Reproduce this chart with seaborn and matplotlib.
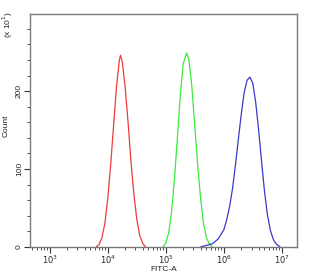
import numpy as np
import pandas as pd
import matplotlib
matplotlib.use("Agg")
import matplotlib.pyplot as plt
import seaborn as sns
from matplotlib.ticker import LogLocator, FixedLocator, MultipleLocator, NullFormatter

# log10(FITC-A) positions and counts (x10^1) per series
red_log = [3.80, 3.85, 3.90, 3.95, 4.00, 4.05, 4.10, 4.15, 4.20, 4.22, 4.25, 4.30, 4.35, 4.40, 4.45, 4.50, 4.55, 4.60, 4.65]
red_cnt = [0, 3, 12, 30, 62, 105, 155, 205, 240, 246, 238, 205, 160, 110, 68, 36, 15, 5, 0]

green_log = [4.95, 5.00, 5.05, 5.10, 5.15, 5.20, 5.25, 5.30, 5.36, 5.40, 5.45, 5.50, 5.55, 5.60, 5.65, 5.70, 5.75, 5.80]
green_cnt = [0, 5, 18, 45, 88, 140, 195, 235, 249, 240, 205, 155, 105, 62, 30, 12, 4, 0]

blue_log = [5.60, 5.70, 5.80, 5.90, 6.00, 6.05, 6.10, 6.15, 6.20, 6.25, 6.30, 6.35, 6.40, 6.45, 6.50, 6.55, 6.60, 6.65, 6.70, 6.75, 6.80, 6.85, 6.90, 6.97]
blue_cnt = [0, 2, 4, 10, 22, 35, 52, 75, 105, 138, 170, 198, 214, 218, 210, 185, 150, 110, 72, 42, 22, 10, 4, 0]

x_ticks = [1e3, 1e4, 1e5, 1e6, 1e7]
x_labels = ["$10^3$", "$10^4$", "$10^5$", "$10^6$", "$10^7$"]
y_ticks = [0, 100, 200]

sns.set_style("white")
plt.rcParams['font.family'] = ['Liberation Sans', 'DejaVu Sans']

df = pd.concat([
    pd.DataFrame({"x": 10 ** np.array(red_log), "y": red_cnt, "s": "red"}),
    pd.DataFrame({"x": 10 ** np.array(green_log), "y": green_cnt, "s": "green"}),
    pd.DataFrame({"x": 10 ** np.array(blue_log), "y": blue_cnt, "s": "blue"}),
])

fig = plt.figure(figsize=(3.09, 2.75), dpi=100)
ax = fig.add_axes([0.097, 0.102, 0.864, 0.847])
palette = {"red": "#ee3b3b", "green": "#3ee83e", "blue": "#3a3ac8"}
sns.lineplot(data=df, x="x", y="y", hue="s", palette=palette, ax=ax,
             legend=False, linewidth=0.9, sort=False, estimator=None)
ax.set_xscale("log")
ax.set_xlim(10 ** 2.66, 10 ** 7.26)
ax.set_ylim(0, 299)

ax.xaxis.set_major_locator(FixedLocator(x_ticks))
ax.set_xticklabels(x_labels)
ax.xaxis.set_minor_locator(LogLocator(base=10, subs=np.arange(2, 10)))
ax.xaxis.set_minor_formatter(NullFormatter())
ax.yaxis.set_major_locator(FixedLocator(y_ticks))
ax.yaxis.set_minor_locator(MultipleLocator(20))

ax.tick_params(axis="both", which="major", direction="out", length=4, width=0.8,
               color="#333333", labelsize=6, pad=1, left=True, bottom=True)
ax.tick_params(axis="both", which="minor", direction="out", length=2.5, width=0.6,
               color="#333333", left=True, bottom=True)
for lab in ax.get_yticklabels():
    lab.set_rotation(90)
    lab.set_va("center")

for sp in ax.spines.values():
    sp.set_color("#7a7a7a")
    sp.set_linewidth(1.0)

ax.set_xlabel("FITC-A", fontsize=6, labelpad=0)
ax.set_ylabel("Count", fontsize=6)
ax.yaxis.set_label_coords(-0.075, 0.52)
fig.text(0.026, 0.91, "(x 10$^1$)", rotation=90, fontsize=6, ha="center", va="center")

fig.savefig("out.png", dpi=100)
